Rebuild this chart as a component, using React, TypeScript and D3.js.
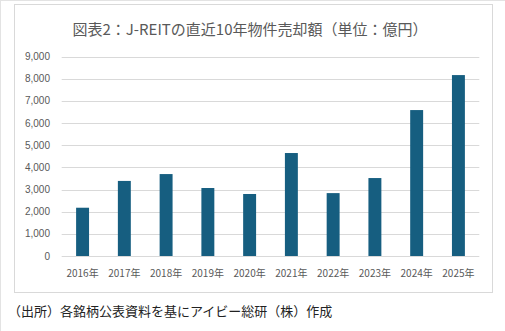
import React from "react";
import * as d3 from "d3";

const years = ["2016年", "2017年", "2018年", "2019年", "2020年", "2021年", "2022年", "2023年", "2024年", "2025年"];
const sales = [2180, 3390, 3700, 3070, 2800, 4650, 2840, 3520, 6590, 8170];
const yTicks = [0, 1000, 2000, 3000, 4000, 5000, 6000, 7000, 8000, 9000];
const title = "図表2：J-REITの直近10年物件売却額（単位：億円）";
const source = "（出所）各銘柄公表資料を基にアイビー総研（株）作成";

const W = 505;
const H = 331;
const plot = { left: 61.7, right: 479.3, top: 56.7, bottom: 256 };
const barColor = "#165e80";
const textColor = "#595959";
const gridColor = "#d9d9d9";
const jp = "'Noto Sans CJK JP', 'Noto Sans', sans-serif";
const latin = "'Liberation Sans', Arial, sans-serif";

export default function App() {
  const x = d3.scaleBand<string>().domain(years).range([plot.left, plot.right]).paddingInner(0.69).paddingOuter(0.345);
  const y = d3.scaleLinear().domain([0, 9000]).range([plot.bottom, plot.top]);
  const fmt = d3.format(",");
  return (
    <svg width={W} height={H} style={{ position: "absolute", left: 0, top: 0, background: "#fff" }}>
      <rect x={0} y={0} width={W} height={H} fill="#fff" />
      <line x1={0.5} y1={0} x2={0.5} y2={H} stroke="#e3e3e3" />
      <line x1={0} y1={0.5} x2={W} y2={0.5} stroke="#e3e3e3" />
      <rect x={14.5} y={4.5} width={478} height={288} fill="#fff" stroke={gridColor} />
      <text x={250} y={35} textAnchor="middle" fontFamily={jp} fontSize={15} fill={textColor}>{title}</text>
      {yTicks.map((t) => (
        <g key={t}>
          <line x1={plot.left} x2={plot.right} y1={Math.round(y(t)) + 0.5} y2={Math.round(y(t)) + 0.5} stroke={gridColor} />
          <text x={50} y={y(t)} dy="0.35em" textAnchor="end" fontFamily={latin} fontSize={10} fill={textColor}>{fmt(t)}</text>
        </g>
      ))}
      {years.map((yr, i) => (
        <rect key={yr} x={x(yr)} y={y(sales[i])} width={x.bandwidth()} height={y(0) - y(sales[i])} fill={barColor} />
      ))}
      {years.map((yr) => (
        <text key={yr} x={(x(yr) as number) + x.bandwidth() / 2} y={277} textAnchor="middle" fontFamily={jp} fontSize={10} fill={textColor}>{yr}</text>
      ))}
      <text x={8} y={316} fontFamily={jp} fontSize={13} fill="#222">{source}</text>
    </svg>
  );
}
